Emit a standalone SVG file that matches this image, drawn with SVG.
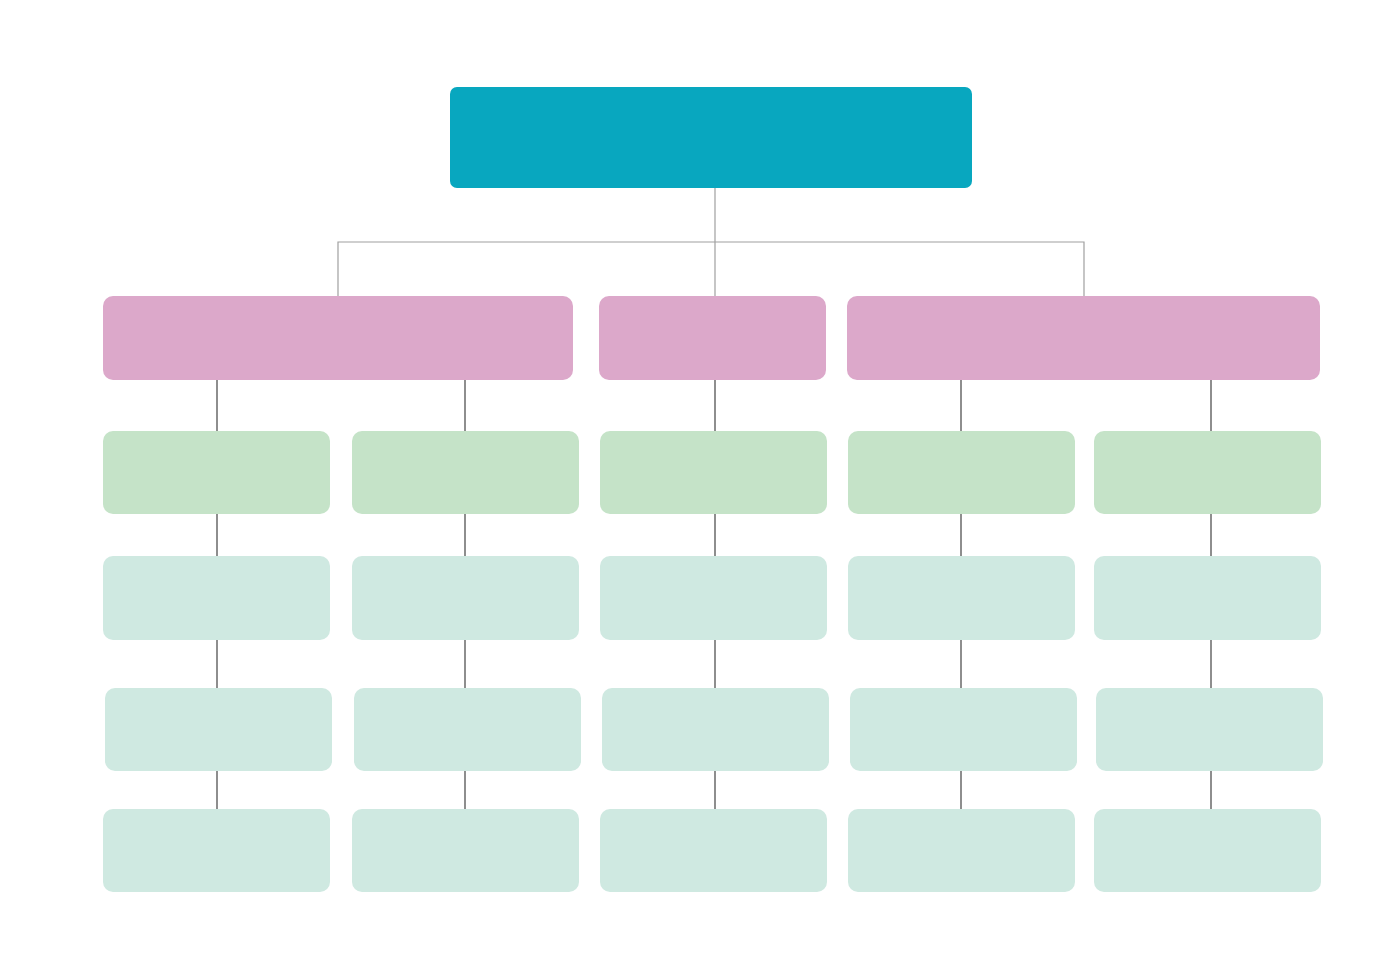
<svg xmlns="http://www.w3.org/2000/svg" width="1398" height="980" viewBox="0 0 1398 980">
<style>
.r{fill:#08a7bf}.p{fill:#dca8ca}.g{fill:#c5e3c8}.l{fill:#cfe9e1}
.c1{stroke:#a0a0a0;stroke-width:1.2;fill:none}.c2{stroke:#6a6a6a;stroke-width:1.5;fill:none}
</style>
<rect width="1398" height="980" fill="#fff"/>
<g id="connectors">
<path class="c1" d="M715 188V296M338 296V242H1084V296"/>
<path class="c2" d="M217 380V431M465 380V431M715 380V431M961 380V431M1211 380V431"/>
<path class="c2" d="M217 514V556M465 514V556M715 514V556M961 514V556M1211 514V556"/>
<path class="c2" d="M217 640V688M465 640V688M715 640V688M961 640V688M1211 640V688"/>
<path class="c2" d="M217 771V809M465 771V809M715 771V809M961 771V809M1211 771V809"/>
</g>
<g id="root"><rect class="r" x="450" y="87" width="522" height="101" rx="7"/></g>
<g id="l2">
<rect class="p" x="103" y="296" width="470" height="84" rx="10"/>
<rect class="p" x="599" y="296" width="227" height="84" rx="10"/>
<rect class="p" x="847" y="296" width="473" height="84" rx="10"/>
</g>
<g id="l3">
<rect class="g" x="103" y="431" width="227" height="83" rx="10"/>
<rect class="g" x="352" y="431" width="227" height="83" rx="10"/>
<rect class="g" x="600" y="431" width="227" height="83" rx="10"/>
<rect class="g" x="848" y="431" width="227" height="83" rx="10"/>
<rect class="g" x="1094" y="431" width="227" height="83" rx="10"/>
</g>
<g id="l4">
<rect class="l" x="103" y="556" width="227" height="84" rx="10"/>
<rect class="l" x="352" y="556" width="227" height="84" rx="10"/>
<rect class="l" x="600" y="556" width="227" height="84" rx="10"/>
<rect class="l" x="848" y="556" width="227" height="84" rx="10"/>
<rect class="l" x="1094" y="556" width="227" height="84" rx="10"/>
</g>
<g id="l5">
<rect class="l" x="105" y="688" width="227" height="83" rx="10"/>
<rect class="l" x="354" y="688" width="227" height="83" rx="10"/>
<rect class="l" x="602" y="688" width="227" height="83" rx="10"/>
<rect class="l" x="850" y="688" width="227" height="83" rx="10"/>
<rect class="l" x="1096" y="688" width="227" height="83" rx="10"/>
</g>
<g id="l6">
<rect class="l" x="103" y="809" width="227" height="83" rx="10"/>
<rect class="l" x="352" y="809" width="227" height="83" rx="10"/>
<rect class="l" x="600" y="809" width="227" height="83" rx="10"/>
<rect class="l" x="848" y="809" width="227" height="83" rx="10"/>
<rect class="l" x="1094" y="809" width="227" height="83" rx="10"/>
</g>
</svg>
